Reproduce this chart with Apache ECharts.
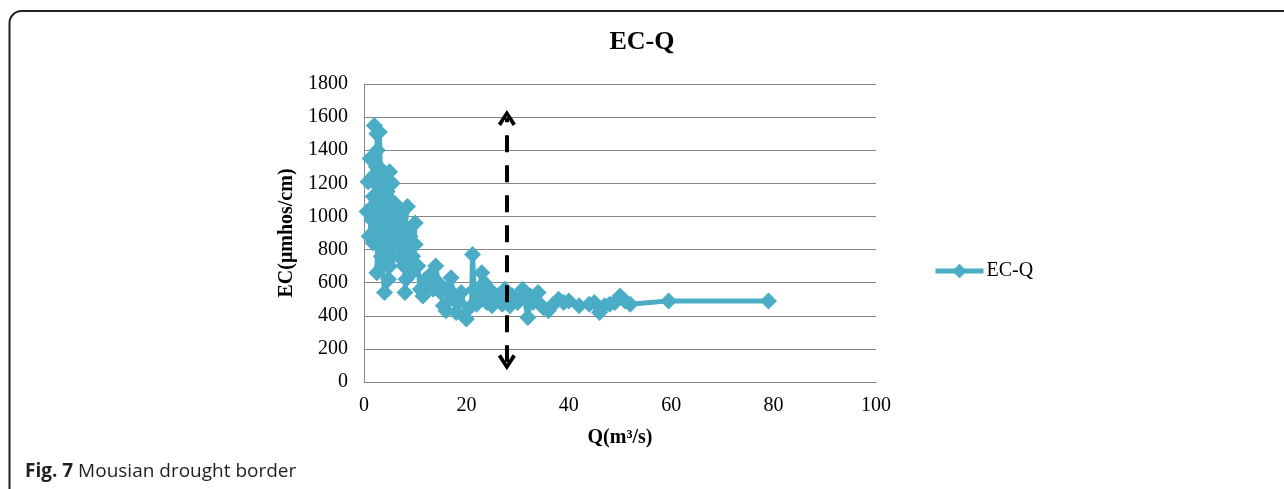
<!DOCTYPE html>
<html>
<head>
<meta charset="utf-8">
<script src="https://cdn.jsdelivr.net/npm/echarts@6/dist/echarts.min.js"></script>
<style>
html,body{margin:0;padding:0;background:#fff;}
#c{width:1284px;height:489px;}
</style>
</head>
<body>
<div id="c"></div>
<script>
// Discharge Q (m3/s) in series order
var qValues = [2.0,2.5,2.6,2.4,1.2,2.0,0.8,2.8,3.0,3.2,1.8,0.6,2.2,1.5,1.0,1.8,2.6,3.5,2.8,2.5,3.4,3.0,4.0,4.5,3.8,4.2,3.6,4.0,4.8,5.0,5.5,5.2,4.6,5.0,6.0,6.5,6.2,5.5,7.0,7.2,6.8,7.5,8.5,8.0,7.8,8.2,8.0,9.0,10.0,9.5,10.0,9.0,10.5,11.0,12.0,11.5,13.0,13.5,14.0,14.5,15.0,15.5,16.0,16.5,17.0,17.5,18.0,18.5,19.0,20.0,21.0,21.2,21.5,22.0,22.5,23.0,23.5,24.0,24.5,25.0,26.0,27.0,27.5,28.0,28.5,29.0,30.0,31.0,32.0,32.5,33.0,34.0,35.0,36.0,37.0,38.0,39.0,40.0,42.0,44.0,45.0,46.0,47.0,48.0,49.0,50.0,51.0,52.0,59.5,79.0];
// EC (umhos/cm) in series order
var ecValues = [1550,1500,1400,1300,1350,1250,1210,1180,1510,1290,1120,1030,1060,980,880,840,920,1100,980,660,760,860,1240,1150,1020,900,700,540,620,1270,1200,1050,820,700,1080,980,880,760,1020,900,760,820,1060,940,700,620,540,880,960,760,830,650,700,560,620,520,650,560,700,600,540,460,430,560,630,500,420,480,540,380,460,770,560,470,520,660,600,480,560,460,520,470,560,500,460,520,480,560,390,520,480,540,450,430,470,500,480,490,460,470,480,420,460,470,480,520,490,470,490,490];
var xTicks = [0,20,40,60,80,100];
var yTicks = [0,200,400,600,800,1000,1200,1400,1600,1800];
var seriesName = 'EC-Q';
// drought border arrow (Q, EC bottom, EC top)
var arrowQ = 27.9;
var arrowLow = 120;
var arrowHigh = 1595;

var pts = qValues.map(function(q,i){return [q, ecValues[i]];});
var serif = '"Liberation Serif","Times New Roman",serif';
var chev = 'path://M0,9 L5,0 L10,9 L8.2,10.5 L5,4.2 L1.8,10.5 Z';

var chart = echarts.init(document.getElementById('c'), null, {renderer:'canvas'});
chart.setOption({
  animation:false,
  backgroundColor:'#fff',
  title:{
    text:'EC-Q', left:'center', top:24,
    textStyle:{fontFamily:serif,fontSize:26,fontWeight:'bold',color:'#000'}
  },
  legend:{
    left:928, top:256, itemWidth:48, itemHeight:18, itemGap:0,
    lineStyle:{width:5},
    textStyle:{fontFamily:serif,fontSize:20,color:'#000',padding:[0,0,0,-2]},
    data:[seriesName]
  },
  grid:{left:364, right:408, top:84, bottom:107},
  xAxis:{
    type:'value', min:xTicks[0], max:xTicks[xTicks.length-1], interval:20,
    name:'Q(m³/s)', nameLocation:'middle', nameGap:46,
    nameTextStyle:{fontFamily:serif,fontSize:20,fontWeight:'bold',color:'#000'},
    axisLine:{show:true,lineStyle:{color:'#868686',width:1}},
    axisTick:{show:false},
    splitLine:{show:false},
    axisLabel:{fontFamily:serif,fontSize:20,color:'#000',margin:14,
      formatter:function(v){return String(v);}}
  },
  yAxis:{
    type:'value', min:yTicks[0], max:yTicks[yTicks.length-1], interval:200,
    name:'EC(μmhos/cm)', nameLocation:'middle', nameGap:67,
    nameTextStyle:{fontFamily:serif,fontSize:20,fontWeight:'bold',color:'#000'},
    axisLine:{show:true,lineStyle:{color:'#868686',width:1}},
    axisTick:{show:false},
    splitLine:{show:true,lineStyle:{color:'#868686',width:1}},
    axisLabel:{fontFamily:serif,fontSize:20,color:'#000',margin:16,
      formatter:function(v){return String(v);}}
  },
  graphic:[
    {type:'rect', z:-1, shape:{x:9.5,y:11,width:1400,height:700,r:12},
     style:{fill:'none',stroke:'#231f20',lineWidth:2}},
    {type:'text', left:25, top:462,
     style:{text:'{b|Fig. 7} Mousian drought border',
       rich:{b:{fontFamily:'"Open Sans",sans-serif',fontSize:19,fontWeight:'bold',fill:'#231f20'}},
       fontFamily:'"Open Sans",sans-serif',fontSize:19,fill:'#231f20'}}
  ],
  series:[{
    name:seriesName, type:'line', data:pts,
    symbol:'diamond', symbolSize:17, showSymbol:true,
    lineStyle:{color:'#4BACC6',width:5},
    itemStyle:{color:'#4BACC6'},
    markLine:{
      silent:true, symbol:[chev,chev], symbolSize:[18,16],
      label:{show:false},
      lineStyle:{color:'#000',width:4,type:[17,13]},
      data:[[{coord:[arrowQ,arrowLow]},{coord:[arrowQ,arrowHigh]}]]
    }
  }]
});
</script>
</body>
</html>
